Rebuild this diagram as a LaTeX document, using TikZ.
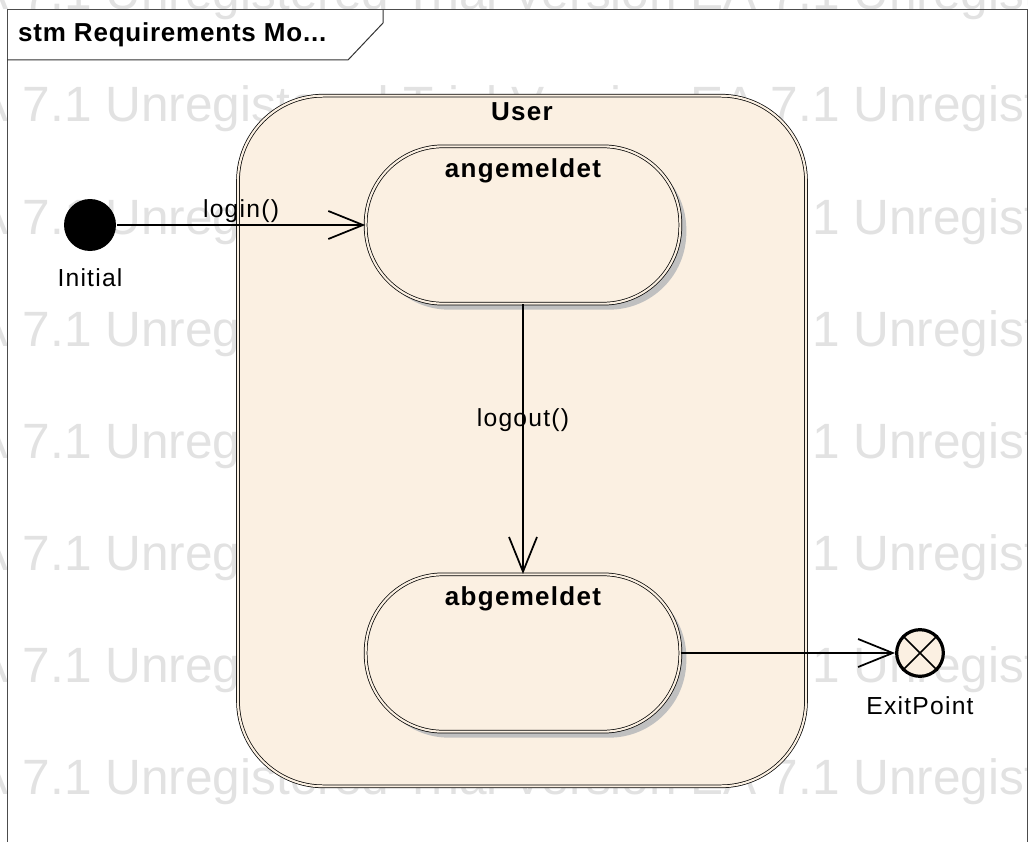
\documentclass[tikz,border=0pt]{standalone}
\usepackage{fontspec}
\setmainfont{Liberation Sans}
\newfontfamily\lblfont[LetterSpace=5]{Liberation Sans}
\newfontfamily\headfont[LetterSpace=5]{Liberation Sans}
\newfontfamily\titlefont[LetterSpace=3]{Liberation Sans}
\newfontfamily\wmfont{Liberation Sans}
\usepackage{tikz}
\usetikzlibrary{arrows.meta,positioning,shadows}

\definecolor{statefill}{RGB}{251,240,226}
\definecolor{wmgray}{RGB}{226,226,226}
\definecolor{shadowgray}{RGB}{192,192,192}

\begin{document}
\begin{tikzpicture}[x=0.75pt,y=-0.75pt,line width=1.3pt,
    >={Straight Barb[length=26pt,width=21pt]},
    every node/.style={inner sep=1pt,font=\lblfont\fontsize{18.5}{22}\selectfont},
    wm/.style={anchor=base west,inner sep=0,text=wmgray,font=\wmfont\fontsize{37.2}{40}\selectfont},
    head/.style={font=\headfont\bfseries\fontsize{19.5}{22}\selectfont},
    composite/.style={rectangle,rounded corners=64pt,draw,line width=0.55pt,
      double=statefill,double distance=1.6pt,fill=statefill,
      minimum width=426pt,minimum height=518pt},
    umlstate/.style={rectangle,rounded corners=58pt,draw,line width=0.55pt,
      double=statefill,double distance=1.6pt,fill=statefill,
      minimum width=236pt,minimum height=118pt,
      drop shadow={shadow xshift=4.5pt,shadow yshift=-4.5pt,fill=shadowgray,opacity=1}},
    initstate/.style={circle,fill=black,minimum size=39pt,inner sep=0},
    exitpt/.style={circle,draw,line width=2.4pt,fill=statefill,minimum size=35pt,inner sep=0}]
    \useasboundingbox (0,0) rectangle (1032,842);

    % watermark
    \begin{scope}
      \clip (0,0) rectangle (1027,842);
      \foreach \yy [count=\i] in {10,122,234,346,458,570,682,794}
        \node[wm] (wm\i) at (-58,\yy) {EA 7.1 Unregistered Trial Version EA 7.1 Unregistered Trial Version};
    \end{scope}

    % diagram frame
    \draw[black!70,line width=0.75pt] (7,860) -- (7,10) -- (1027,10) -- (1027,860);
    \draw[black!80,line width=0.75pt] (7,60) -- (348,60) -- (383,23) -- (383,10);
    \node[anchor=west,font=\titlefont\bfseries\fontsize{19.5}{22}\selectfont] (title) at (16,35) {stm Requirements Mo...};

    \node[composite]    (user)       at (522,441) {};
    \node[head]         (userlbl)    [below=4pt of user.north] {User};

    \node[initstate]    (initial)    at (90,225) {};
    \node               (initlbl)    [below=11pt of initial] {Initial};
    \node[umlstate]     (angemeldet) at (523,225) {};
    \node[head]         (anglbl)     [below=8pt of angemeldet.north] {angemeldet};
    \node[umlstate]     (abgemeldet) at (523,653) {};
    \node[head]         (abglbl)     [below=8pt of abgemeldet.north] {abgemeldet};
    \node[exitpt]       (exit)       at (920,653) {};
    \node               (exitlbl)    [below=12pt of exit] {ExitPoint};
    \draw (exit.north east) -- (exit.south west)
          (exit.north west) -- (exit.south east);

    \path[->]
    (initial)    edge node[above]          {login()}  (angemeldet)
    (angemeldet) edge node[pos=0.43]       {logout()} (abgemeldet)
    (abgemeldet) edge                                 (exit)
    ;
\end{tikzpicture}
\end{document}
